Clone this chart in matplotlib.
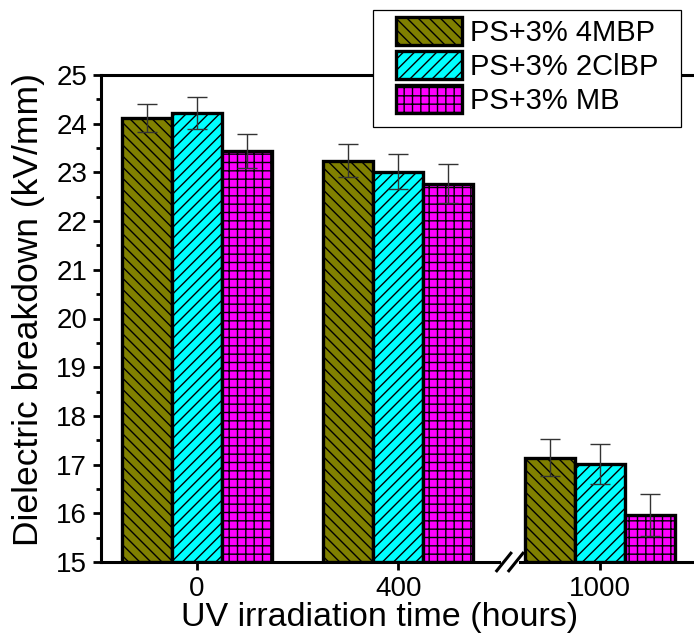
import matplotlib
matplotlib.use("Agg")
import matplotlib.pyplot as plt
import numpy as np
from matplotlib.lines import Line2D
from matplotlib.patches import Rectangle

plt.rcParams['font.family'] = ['Liberation Sans', 'DejaVu Sans']
plt.rcParams['hatch.linewidth'] = 1.0

groups = ['0', '400', '1000']
series = ['PS+3% 4MBP', 'PS+3% 2ClBP', 'PS+3% MB']
values = {
    'PS+3% 4MBP': [24.12, 23.24, 17.14],
    'PS+3% 2ClBP': [24.22, 23.01, 17.02],
    'PS+3% MB': [23.44, 22.77, 15.96],
}
errors = {
    'PS+3% 4MBP': [0.29, 0.34, 0.38],
    'PS+3% 2ClBP': [0.33, 0.36, 0.41],
    'PS+3% MB': [0.34, 0.40, 0.43],
}
colors = ['#808000', '#00FFFF', '#FF00FF']
hatches = ['\\\\\\', '///', '++']

W, H = 694, 634
fig = plt.figure(figsize=(W/100, H/100), dpi=100)
ax = fig.add_axes([101/W, 1-562/H, 1.0-101/W, (562-75)/H])

x = np.arange(len(groups))
w = 0.248
for i, s in enumerate(series):
    pos = x + (i-1)*w
    ax.bar(pos, np.array(values[s]) - 15, bottom=15, width=w, color=colors[i],
           edgecolor='black', linewidth=2.4, hatch=hatches[i], label=s, zorder=2)
    ax.errorbar(pos, values[s], yerr=errors[s], fmt='none', ecolor='#333333',
                elinewidth=1.0, capsize=7, capthick=1.0, zorder=3)

ax.set_xlim(-0.476, 2.467)
ax.set_ylim(15, 25)
ax.set_xticks(x)
ax.set_xticklabels(groups)
ax.set_yticks(np.arange(15, 26, 1))
ax.set_yticks(np.arange(15, 25.01, 0.5), minor=True)
ax.tick_params(axis='both', which='major', labelsize=20, length=6, width=2, direction='out', pad=4)
ax.tick_params(axis='y', which='minor', length=3.5, width=2, direction='out')
ax.tick_params(axis='x', which='minor', bottom=False)
for sp in ['left', 'bottom', 'top']:
    ax.spines[sp].set_linewidth(2.2)
ax.spines['right'].set_visible(False)

ax.set_xlabel('UV irradiation time (hours)', fontsize=24.5)
ax.set_ylabel('Dielectric breakdown (kV/mm)', fontsize=25.5)
ax.xaxis.set_label_coords((380-101)/593, -0.083)
ax.yaxis.set_label_coords((45-101)/593, (562-309)/487)

# axis break marker
bx = 1.553
trans = ax.get_xaxis_transform()
ax.add_patch(Rectangle((bx - 0.045, -0.01), 0.09, 0.02, transform=trans,
                       facecolor='white', edgecolor='none', clip_on=False, zorder=5))
for dx in (-0.03, 0.03):
    ax.add_line(Line2D([bx + dx - 0.035, bx + dx + 0.035], [-0.018, 0.018], transform=trans,
                       color='black', linewidth=2.2, clip_on=False, zorder=6))

# legend
fig.patches.append(Rectangle((373/W, 1-127/H), (681-373)/W, (127-10)/H, transform=fig.transFigure,
                             facecolor='white', edgecolor='black', linewidth=0.9, zorder=10))
leg = fig.legend(loc='upper left', bbox_to_anchor=(396/W, 1-17/H), fontsize=21,
                 frameon=False, handlelength=2.26, handleheight=1.1, labelspacing=0.14,
                 handletextpad=0.27, borderpad=0, borderaxespad=0)
leg.set_zorder(11)

fig.savefig('out.png', dpi=100)
